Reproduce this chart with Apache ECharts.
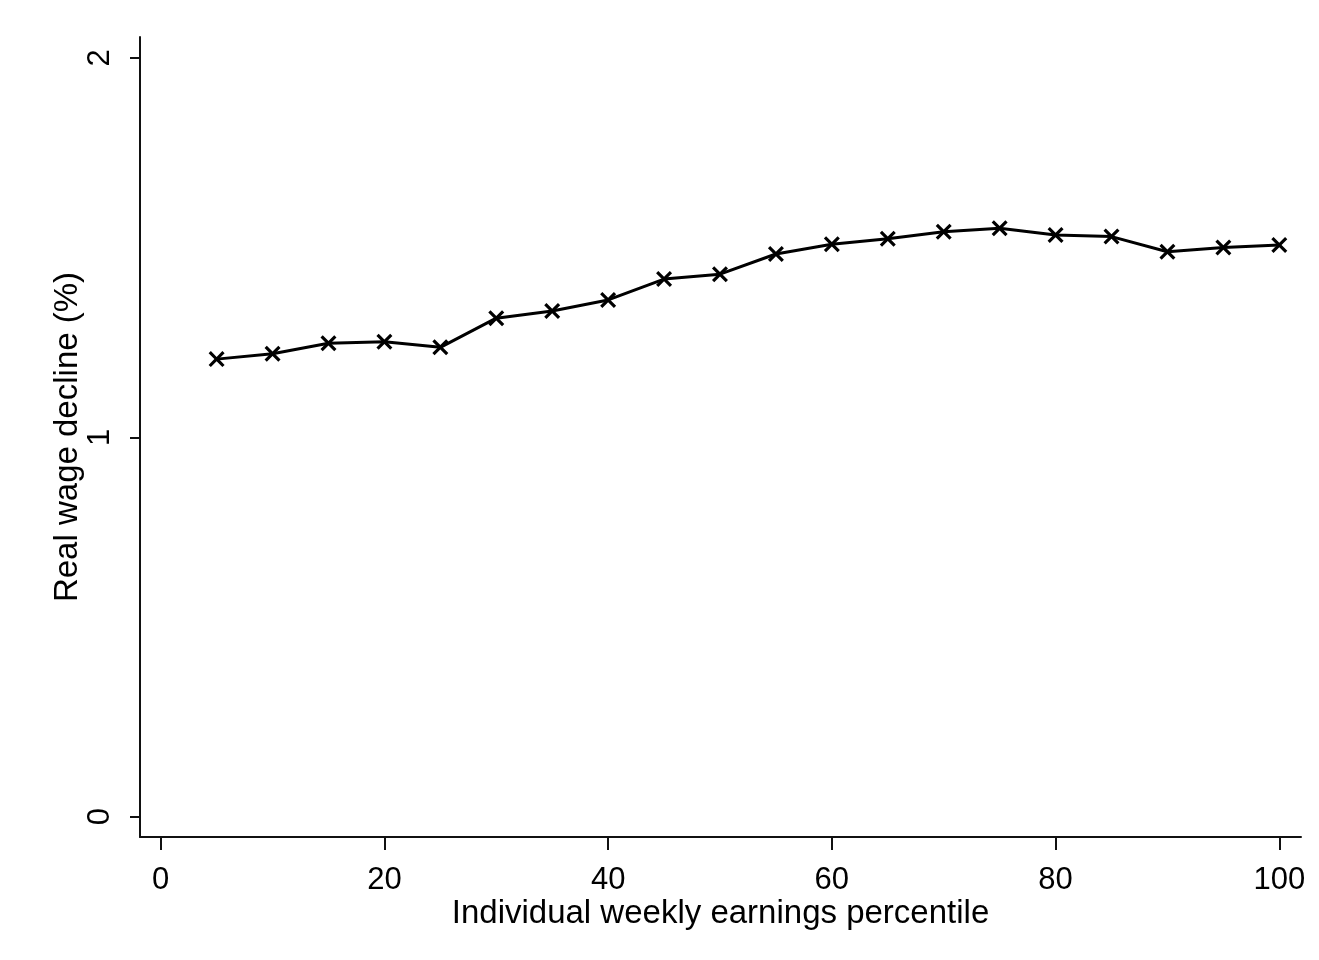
<!DOCTYPE html>
<html>
<head>
<meta charset="utf-8">
<script src="https://cdn.jsdelivr.net/npm/echarts@6/dist/echarts.min.js"></script>
<style>
html,body{margin:0;padding:0;background:#fff;}
#chart{width:1319px;height:960px;}
</style>
</head>
<body>
<div id="chart"></div>
<script>
const percentiles = [5,10,15,20,25,30,35,40,45,50,55,60,65,70,75,80,85,90,95,100];
const wageDecline = [1.206,1.220,1.248,1.252,1.237,1.314,1.333,1.362,1.417,1.430,1.483,1.509,1.523,1.542,1.551,1.533,1.529,1.489,1.500,1.507];
const xTicks = [0,20,40,60,80,100];
const yTicks = [0,1,2];

const chart = echarts.init(document.getElementById('chart'));
const font = 'Liberation Sans, Arial, sans-serif';
const xMark = 'path://M0,14L14,0L50,36L86,0L100,14L64,50L100,86L86,100L50,64L14,100L0,86L36,50Z';

chart.setOption({
  backgroundColor: '#fff',
  animation: false,
  grid: {left: 140, right: 18, top: 37, bottom: 123},
  xAxis: {
    type: 'value',
    min: -1.85, max: 101.94,
    name: 'Individual weekly earnings percentile',
    nameLocation: 'middle',
    nameMoveOverlap: false,
    nameGap: 60,
    nameTextStyle: {fontFamily: font, fontSize: 33, color: '#000'},
    axisLine: {show: true, onZero: false, lineStyle: {color: '#111', width: 2}},
    axisTick: {show: true, length: 13, customValues: xTicks, lineStyle: {color: '#111', width: 2}},
    axisLabel: {customValues: xTicks, margin: 28, fontFamily: font, fontSize: 31, color: '#000'},
    splitLine: {show: false}
  },
  yAxis: {
    type: 'value',
    min: -0.0535, max: 2.055,
    name: 'Real wage decline (%)',
    nameLocation: 'middle',
    nameMoveOverlap: false,
    nameRotate: 90,
    nameGap: 56,
    nameTextStyle: {fontFamily: font, fontSize: 33, color: '#000'},
    axisLine: {show: true, onZero: false, lineStyle: {color: '#111', width: 2}},
    axisTick: {show: true, length: 10, customValues: yTicks, lineStyle: {color: '#111', width: 2}},
    axisLabel: {customValues: yTicks, rotate: 90, margin: 24, fontFamily: font, fontSize: 31, color: '#000'},
    splitLine: {show: false}
  },
  series: [{
    type: 'line',
    data: percentiles.map((p, i) => [p, wageDecline[i]]),
    symbol: xMark,
    symbolSize: 16,
    showAllSymbol: true,
    lineStyle: {color: '#000', width: 3},
    itemStyle: {color: '#000'}
  }]
});
</script>
</body>
</html>
